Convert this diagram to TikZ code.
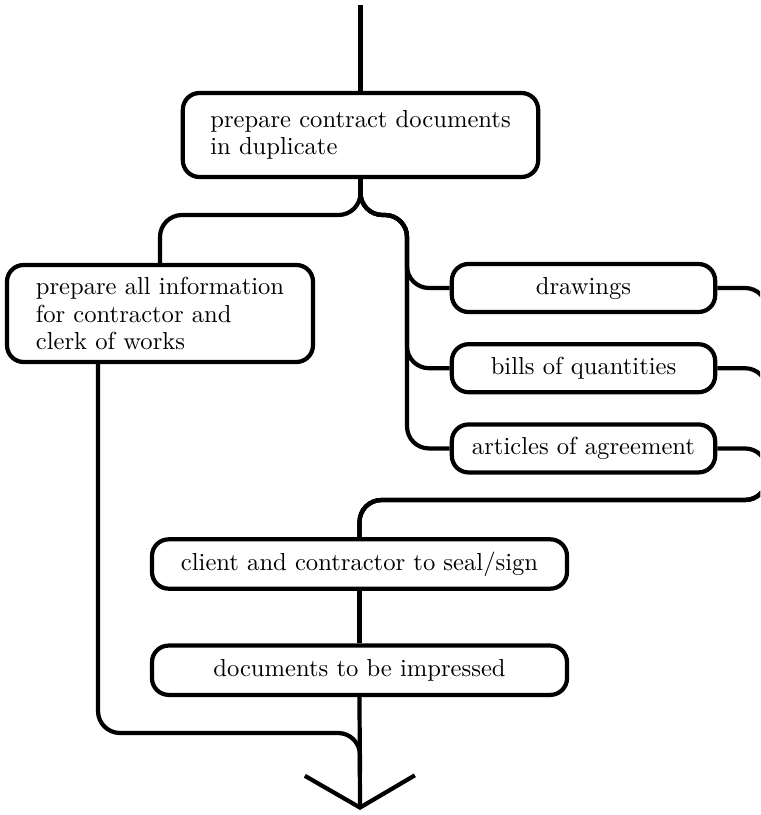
\documentclass[tikz,border=0pt]{standalone}
\usepackage{tikz}
\usetikzlibrary{positioning,arrows.meta}
\tikzset{
    docbox/.style={
        draw, line width=1.8pt, rounded corners=0.25cm,
        inner sep=0pt, align=left,
        font=\fontsize{10.5}{11.7}\selectfont
    },
    smallbox/.style={
        docbox, align=center,
        minimum width=3.95cm, minimum height=0.72cm
    },
    signbox/.style={
        docbox, align=center,
        minimum width=6.225cm, minimum height=0.74cm
    },
    link/.style={line width=1.8pt, rounded corners=0.33cm},
    outlet/.style={-{Straight Barb[length=0.48cm, width=1.65cm]}},
}
\begin{document}
\begin{tikzpicture}[x=0.015cm, y=-0.015cm]
    \useasboundingbox (0,0) rectangle (760,815);
    \fill[white] (0,0) rectangle (760,815);
    \clip (0,0) rectangle (760,815);

    % boxes
    \node[docbox, minimum width=5.33cm, minimum height=1.26cm] (prepare) at (360.5,135)
        {prepare contract documents\\in duplicate};
    \node[docbox, minimum width=4.59cm, minimum height=1.455cm] (info) at (160,313.5)
        {prepare all information\\for contractor and\\clerk of works};
    \node[smallbox] (drawings) at (583.5,288) {drawings};
    \node[smallbox, below=0.42cm of drawings] (bills) {bills of quantities};
    \node[smallbox, below=0.42cm of bills] (articles) {articles of agreement};
    \node[signbox] (client) at (359.5,564) {client and contractor to seal/sign};
    \node[signbox, below=0.79cm of client] (docs) {documents to be impressed};

    % free ends and bends
    \coordinate (start) at (360.5,5);
    \coordinate (fork) at (407,215);
    \coordinate (gather) at (767,500);
    \coordinate (merge) at (360,733);
    \coordinate (sink) at (360,810);

    \draw[link] (start) -- (prepare.north);
    \draw[link] (prepare.south) |- (info.north |- fork) -- (info.north);
    \foreach \part in {drawings,bills,articles} {
        \draw[link] (prepare.south) |- (fork) |- (\part.west);
        \draw[link] (\part.east) -| (gather) -| (client.north);
    }
    \draw[link] (client.south) -- (docs.north);
    \draw[link] ([xshift=-0.93cm]info.south) |- (merge) -- ++(0,40);
    \draw[link, outlet] (docs.south) -- (sink);
\end{tikzpicture}
\end{document}
